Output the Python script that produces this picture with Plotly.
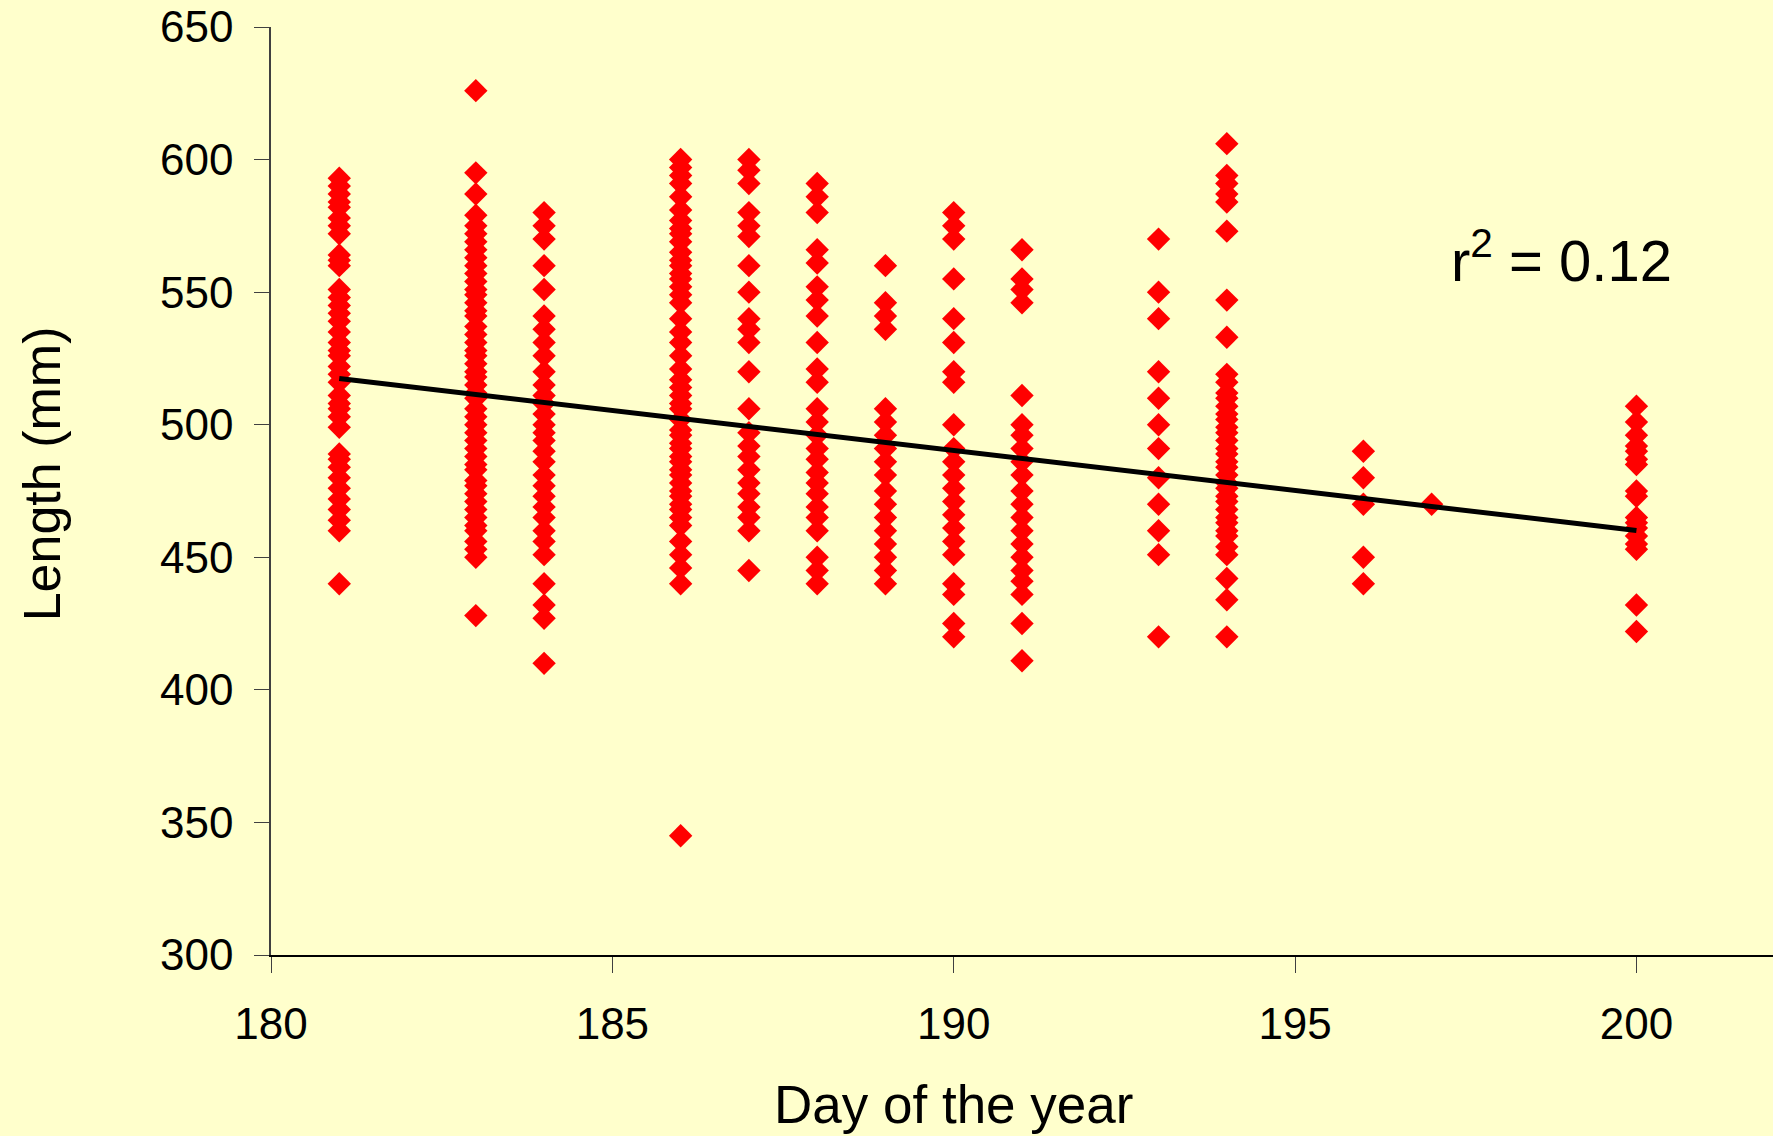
import plotly.graph_objects as go

# Lengths (mm) by day of the year
d181 = [593, 590, 587, 584, 582, 578, 575, 572, 564, 562, 560, 551, 548, 545, 542, 539, 535, 531, 528, 526,
        522, 519, 516, 511, 508, 506, 503, 499, 489, 487, 484, 480, 476, 472, 468, 464, 460, 440]
d183 = [626, 595, 587, 579, 575, 572, 569, 566, 563, 560, 557, 554, 551, 549, 546, 543, 541, 537, 534, 531,
        528, 526, 523, 520, 518, 515, 512, 510, 506, 503, 500, 497, 494, 491, 488, 485, 483, 479, 477, 474,
        471, 468, 465, 462, 460, 456, 453, 450, 428]
d184 = [580, 575, 570, 560, 551, 541, 536, 531, 526, 520, 515, 511, 508, 504, 500, 497, 494, 490, 486, 481,
        477, 473, 469, 465, 460, 456, 451, 440, 432, 427, 410]
d186 = [600, 597, 594, 591, 586, 581, 577, 574, 572, 569, 565, 562, 560, 557, 555, 552, 549, 546, 540, 535,
        531, 526, 521, 517, 514, 511, 508, 506, 502, 498, 496, 493, 491, 488, 486, 483, 481, 478, 475, 473,
        470, 468, 465, 462, 456, 451, 446, 440, 345]
d187 = [600, 596, 591, 580, 575, 571, 560, 550, 540, 536, 531, 520, 506, 497, 492, 488, 483, 478, 474, 469,
        465, 460, 445]
d188 = [591, 586, 580, 566, 561, 552, 547, 541, 531, 521, 516, 506, 501, 496, 491, 487, 482, 478, 474, 469,
        465, 460, 450, 445, 440]
d189 = [560, 546, 541, 536, 506, 501, 496, 491, 486, 481, 475, 470, 465, 460, 455, 450, 445, 440]
d190 = [580, 575, 570, 555, 540, 531, 520, 516, 500, 491, 486, 481, 476, 471, 466, 461, 456, 451, 440, 436,
        425, 420]
d191 = [566, 555, 551, 546, 511, 500, 496, 491, 486, 481, 475, 470, 465, 460, 455, 450, 445, 441, 436, 425, 411]
d193 = [570, 550, 540, 520, 510, 500, 491, 480, 470, 460, 451, 420]
d194 = [606, 594, 591, 587, 584, 573, 547, 533, 519, 516, 512, 510, 507, 504, 502, 499, 497, 494, 491, 489,
        486, 484, 481, 478, 476, 473, 471, 468, 465, 463, 460, 458, 454, 451, 442, 434, 420]
d196 = [490, 480, 470, 450, 440]
d197 = [470]
d200 = [507, 501, 496, 492, 490, 487, 485, 475, 473, 465, 463, 461, 458, 455, 453, 432, 422]

days = [181, 183, 184, 186, 187, 188, 189, 190, 191, 193, 194, 196, 197, 200]
lengths = [d181, d183, d184, d186, d187, d188, d189, d190, d191, d193, d194, d196, d197, d200]

# Fitted trend line
trend_x = [181, 200]
trend_y = [517.4, 460.1]
r2_label = "r<sup>2</sup> = 0.12"
x_title = "Day of the year"
y_title = "Length (mm)"
x_ticks = [180, 185, 190, 195, 200]
y_ticks = [300, 350, 400, 450, 500, 550, 600, 650]

xs, ys = [], []
for d, vals in zip(days, lengths):
    xs += [d] * len(vals)
    ys += vals

FONT = "Arial, 'Liberation Sans', sans-serif"
BG = "#FFFFCC"

fig = go.Figure()
fig.add_trace(go.Scatter(x=xs, y=ys, mode="markers",
                         marker=dict(symbol="diamond", size=18, color="#FF0000", line=dict(width=0)),
                         showlegend=False, hoverinfo="x+y"))
fig.add_trace(go.Scatter(x=trend_x, y=trend_y, mode="lines",
                         line=dict(color="black", width=5), showlegend=False))

fig.add_annotation(x=198.9, y=563.5, xref="x", yref="y", text=r2_label, showarrow=False,
                   font=dict(family=FONT, size=58, color="black"))
fig.add_annotation(x=0.4547, y=-0.161, xref="paper", yref="paper", text=x_title, showarrow=False,
                   xanchor="center", yanchor="middle", font=dict(family=FONT, size=53, color="black"))
fig.add_annotation(x=-0.1525, y=0.519, xref="paper", yref="paper", text=y_title, showarrow=False,
                   textangle=-90, xanchor="center", yanchor="middle",
                   font=dict(family=FONT, size=52, color="black"))

fig.update_layout(
    width=1773, height=1136,
    paper_bgcolor=BG, plot_bgcolor=BG,
    margin=dict(l=271, r=0, t=27, b=181),
    font=dict(family=FONT, color="black"),
    xaxis=dict(range=[180, 202], tickvals=x_ticks, showgrid=False, zeroline=False,
               showline=True, linecolor="black", linewidth=2, ticks="outside", ticklen=16,
               tickcolor="#404040", tickwidth=1, tickfont=dict(size=44), ticklabelstandoff=13),
    yaxis=dict(range=[300, 650], tickvals=y_ticks, showgrid=False,
               zeroline=False, showline=True, linecolor="#404040", linewidth=1.5, ticks="outside",
               ticklen=15, tickcolor="#404040", tickwidth=1, tickfont=dict(size=44), ticklabelstandoff=12),
)

fig.write_html("out.html", config={"displayModeBar": False},
               post_script="document.body.style.margin='0';document.body.style.padding='0';"
                           "document.body.style.background='#FFFFCC';document.body.style.overflow='hidden';")
